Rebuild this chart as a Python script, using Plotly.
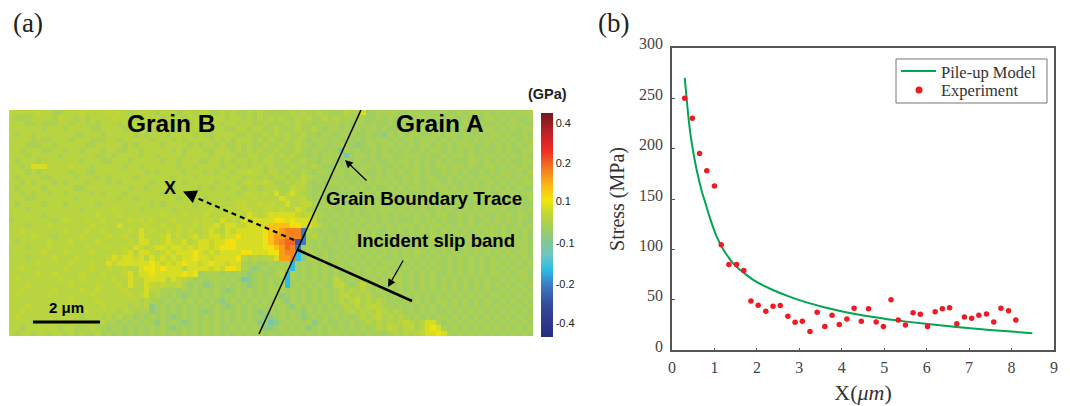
import plotly.graph_objects as go

# ---------- panel (b) data ----------
exp_x = [0.30,0.48,0.65,0.82,1.00,1.16,1.34,1.52,1.69,1.86,2.03,2.21,2.38,2.55,2.73,2.90,3.07,3.25,3.42,3.60,3.77,3.94,4.12,4.29,4.46,4.63,4.81,4.98,5.16,5.33,5.50,5.68,5.85,6.02,6.20,6.37,6.54,6.71,6.89,7.06,7.23,7.41,7.58,7.75,7.93,8.10]
exp_y = [250,230,195,178,163,104.7,85,85,79,49,44.7,38.7,43.7,44.3,33.7,27.7,28.7,18.7,37.7,23.7,34.7,25.7,31,41.7,28.7,41.3,28,23.7,50,30,25,37.3,35.7,23.7,38.3,41.3,42.3,26.3,33,31.7,34.7,36,28,41.7,39.3,30]
model_x = [0.30,0.385,0.46,0.58,0.70,0.78,0.895,1.05,1.21,1.445,1.76,2.0,2.39,2.78,3.17,3.56,3.96,4.35,4.74,5.13,5.92,6.7,7.49,8.49]
model_y = [270,232,207,179,158,147,131,113,100,86,74.5,67.5,59.5,53,47.5,43,39,35.7,33,30.5,26.5,23.2,20.2,17]
x_ticks = [0,1,2,3,4,5,6,7,8,9]
y_ticks = [0,50,100,150,200,250,300]
legend_names = ["Pile-up Model","Experiment"]

# ---------- panel (a) data: map read cell by cell, as colour-bar codes ----------
map_rows = [
"abbbbabbcc bbbabbbbab abcbbbbcbb bcbbcbbccb cbccbcbccc ccbcbccbcc dcbcckddcc ccddccdcdc cddcdccdcd cdcdccc",
"bcccbbbbca bbcbcbbbba bbbccbbbcb bbcbbcbcbb cbbcbcbcbc bccbcbccbc bcccdcddcd cdccdcccdc dccdcdcdcc dcdcddc",
"bbbccbcccb bcbbcbcbbb cbbbcbbbbc bbbcbbcbbc bbcbbccbcc cbcbccdccc cdcdccdcdd cdcdccdcdd cdcdcdccdd cdcccdd",
"bbbbbbcbbb cbbbbccbbb bcbbbbcbbb cbcbbbcbbb ccbbcbbccb cccbccbcdc cdcdcdccdc ddcdcdcdcc dddcdcddcc dcdcdcc",
"bcbbcbbbbb bbccbbbcbb bbbcbcbbbc bbbbcbccbb bbccbccbcb cbccbccdcc dcccddcdde cdcdccddcc dccdcddcdc cdcddcd",
"bbbbcbccbb bcbbbcccbb cbbbbbcbbb cbcbbbbcbc bcbbbcbcbc cbcbcdcccd cdddcdcdcc dcdccdcccd cdcdcdcdcc dcdcdcc",
"bbbcccbbcb bbbbccbbbb bcbcbbbbcb bbbcbcbbcb ccbcbccbcc bccbccdccd cccdedccdc cdcdcdccdc dcdcccddcd cdcdcdc",
"bbcbbbccbb cbbcbbbcbb ccbbcbbbbb cbcbbbccbb bcbcbcbccb cccbcdccdc dfcdcddcdc dcdcddcdcc dcdcdcdcdd cdcddcc",
"bbbcbbbbbc bbbbbbccbc bbbbcbbcbb bbcbbbbcbb bbccbbccbc bcbccdcdcc cdfdccdcdc cddcccdcdd cdccdcddcc dcdcdcd",
"bcbbbcbbbb bbbcbbbccb bbcbbbbbcb bcbbbccbbc bcbbcbcbbc cbccbccdcc ddcdcddcdd cdccdcdcdc dcdddccdcd cdcddcc",
"bbcbkkkbbb babbbcbbbb bcbbcbbbbb bcbbcbbbbc bbcbcbbcbc ccbcccbcdd cddcdccdcd dcdcdcdcdc cdccdcddcc dcdcdcd",
"bbbcbcbbbb bcbbccbbbb bbbbbcbcbb bbcbbbcbcb bcbbabbcbb cbccbcdccd ccdcdcddcd cdcdccdcdd cdcdcddcdc dccdcdc",
"bcbbbbccbb bbcbbbcbcb bbbcbbbbbb cbbbcbbbbb cbbcbbcbcb bcbcabccdc dcdddccdcd cddcdcdccd dcdcdcdccd cdcdccd",
"bbcbcbbbcb cbbbcbbbcb cbbbbbcbbb bbcbbbbbcb bbcbabbabc cbcbacdcdc cdcdcdcdcc dcdcdcddcc dcddcdcdcc dcdcdcc",
"bcbbbbcbbb bbccbbbbbb bbcbbcbbbb cbbbbcbcbb cbbcbbcbbb ccabbcddcd dcdcdcdcdd cdcdccdcdc cdcdcdcdcd cdcdcdd",
"bbcbcbbcbb cbbbbcbcbb bcbbbbbbcb bbbbcbbbbb bbcbabbabk cbkbccdcdc cdddcdcdcc dcdcddccdd ccdcdcdccd dcdcdcc",
"bbbccbbbbb bbcbbbbbbb cbbcbbbbbb bcbbbbcbbb cbbbbabbbb kabbacdcdd cdcdcdcddc cddccddcdc dcdcddcdcc dcdccdc",
"bcbbbbcbbb cbbbbbcbbb bbbbbbcbcb bbbbcbbbbb bbaabbabab bkbbaacdcc dcdcdccdcd dcdcdccdcd cdcdcdcdcd cdcdcdd",
"bbbcbbbbbb bbbcbbbbba bbbbcbbbbb cbbbbbbabb abbaabbaab abbkacdcdc ddcdcdcdcc cdcdcdcddc dcdccdcdcc dcddcdc",
"bbbbbbcbbb bbbbbbabbb abbbbbbbab bbabbbabbb aaabkabakk kkkababccd cdcdcddcdc dcdcdcdcdc cddcdcdcdd cdcdccd",
"cbbbbbbbcb abbbabbabb bbabababbb abbbabaabk aabkakkkkm mklkkkacdc dcdcdcdcdc dcdddcdccd cddcdcddcd cdcdcdd",
"bbbcbbbabb bbbbbabbbb kbbbbabbab babbabaakb kkaakkkknn nnmmkkabcd cdcdcdcdcd cdcccdcdcc dcdcdcdcdc dcddcdc",
"bbabbbbbbb abbbabbabb bbabkbabba bababbakab kakkkkklnn opppibcdcd dcdcdcdcdd cdcdcdcdcd cdcdcdcdcc dcdcdcd",
"bbbbabbbcb bbbabbbbab babbkabbak babakbakka kkmkkkkmno opppicbcdc dcdcdcdcdc dcddcdcdcd dcdcdcdcdc dcdcdcd",
"bcbbbbbabb babbbbabbb bbabkkbbak aakbakkakk mmkkkkklno pqqjicdcdc dcdcdcdcdd cdcdcdcdcc dcdcdccdcd cdcdccd",
"bbbcbbbabb bbbbabbbab babkabakka kkakakkakm lmkkkkklmn oqpidcdcdd cdcdcdcdcc dcdcdcdcdc cdcdcdcdcd dcdcdcd",
"bbbbbbabbb abbbbabbba bakbkkabak akkkmkakak kkkmlkkklm oppheccdcd dcdcdcdcdc dcdcdccdcd cdcdcdcdcd cdcdccd",
"bbbcbbbbab bbabbbbbak akkakbkaka kakkmkkakk kkmbcbcbbk oopheccdcd cdcdcdcdcd dcdcdcdcdc dcdcdcdcdc dcdcdcd",
"bbbbbabbbb babbbabbka kkkkkkmkak akmkkakmkk akkcdcddcd cchdcdcdcd dcdcdcdcdc cdcdcdcdcd dcdcdcdcdc cdcdcdc",
"bbabbbbbbb abbbbabbab babbkllkmk kkbkkkkaka mmkcdedcdc cchdcdcdcd cdcdcdcdcc dcdcdcdcdc dcdcdcdcdc dcdcdcd",
"bbbbbabbab bbbabbbabb bakbkklkkk kkmkmdcccd cdcdedcddc bhcdcdcdcd cdcdcdcdcd cdcdcdcdcd dcdcdcdcdc cdcdccd",
"babbbbbbba bbbabbbbba bbkabkkkkb kabcdcdccc dcdfedcdcd chcdcdcdcd acdcdcdcdc cbcdcdcdcd cdcdcdcdcd dcdcdcd",
"bbbabbbbbb babbbbabbb abkbbkabab bacdcdedcd cdcdedcdcd chdcdcdcdd bacdcacdcd cdcdcdcdcd cdcdcdcdcd cdcdcdc",
"bbabbbbbab bbbabbabbb babbbkbbcc cdcdcdcdcd edcdcdcdcc cdcdcdcdcd cbcbcbcdcd cdcdcdcdcd cdcdcdcdcd dcdcdcd",
"babbbbbabb bbbbbabbbb bbabakcbcd cdedcdcdcd cdcdcdcdcd edcdcdcdcd cbacbcbcdc dcdcdcdcdc dcdcdcdcdc cdcdcdc",
"bbbbbbbbbb babbbbabbb bbbbcbccdc dcdcdcdcde dcdcdcdcdc decdcdcdcd cbcbacbcbc dcdcdcdcdc cdcdcdcdcd dcdcdcd",
"bbbabbbbcb bbbbbbbabb bbcbcbedcd cdcdcdcdcd edcdcdcdcd cdecdcdcdc dcbcacbabc cdcdcdcdcd cdcdcdcdcd cdcdcdc",
"bbabbbbbbb bbbbabbbbb cbbcccedcd cdcdcdedcd cdcdcdedcd cdcdecdcdc cdcbcbbcab cbcdcdcdcd dcdcdcdcdc dcdcdcd",
"babbbbbbbb bbbcbbbcbc bccdcdcdcd edcdcdcdcd cdcdcddeed cdcdedcdcd cdcdcbcbac bcbcdcdcdc cdcdcdcdcd cdcdcdc",
"bbbbcbbbbb cbbbcbcbcc dcdcdcdecd cdedcdcdcd cdcdcdedfe dcdcdcedcd dcdcdcbcbc bcbabcbkkc dcdcdcdcdc dcdcdcd",
"bbcbbbbbbc bbcccbccdc cdcdcdcdcd edcdcdcdcd dcdcdcdeed cdcdcedcdc dcdcdcdcbc abcbacbklk cdcdcdcdcd cdcdcdc",
"bcbbcbbcbb cbcbccbdcd cdcdcdcdcd cdcdcdcdcd cdcdcdcdcd dcdcdcdcdc cdcdcdcdcd cbcbcbakkl kcdcdcdcdc dcdcdcd",
]
code_level = {"a":.55,"b":.53,"c":.505,"d":.485,"e":.45,"f":.39,"g":.34,"h":.30,"i":.232,"j":.17,
              "k":.575,"l":.60,"m":.62,"n":.665,"o":.71,"p":.74,"q":.77}
cbar_pos = [.955,.778,.608,.418,.237,.0625]
cbar_text = ["0.4","0.2","0.1","-0.1","-0.2","-0.4"]
map_colors = [[0,"#272b80"],[.143,"#34499c"],[.232,"#3c7cc0"],[.30,"#2dbbe8"],[.366,"#6fc6c2"],[.42,"#7fc79a"],
              [.487,"#a2ce5e"],[.545,"#bfd637"],[.61,"#f2e60f"],[.674,"#fdbb13"],[.746,"#f47f20"],[.835,"#ee2b24"],
              [.90,"#c9212a"],[1,"#701a1c"]]

W, H = 1070, 406
z = [[code_level[c] for c in r.replace(" ","")] for r in map_rows]
ncol = max(len(r) for r in z)
z = [r + [r[-1]]*(ncol-len(r)) for r in z]
L, R, T, B = 9, 533, 110, 336
dx = (R-L)/ncol; dy = (B-T)/len(z)

fig = go.Figure()
fig.add_trace(go.Heatmap(z=z, x0=L+dx/2, dx=dx, y0=T+dy/2, dy=dy, zmin=0, zmax=1, colorscale=map_colors,
    xaxis="x", yaxis="y", showlegend=False, hoverinfo="skip",
    colorbar=dict(x=541/W, xanchor="left", xpad=0, ypad=0, y=1-113/H, yanchor="top", len=224, lenmode="pixels",
                  thickness=12, thicknessmode="pixels", outlinewidth=0, tickmode="array", tickvals=cbar_pos,
                  ticktext=cbar_text, ticks="", tickfont=dict(family="Liberation Sans Narrow, Liberation Sans", size=11, color="#222"))))
fig.add_trace(go.Scatter(x=model_x, y=model_y, mode="lines", name=legend_names[0], xaxis="x2", yaxis="y2", showlegend=False,
    line=dict(color="#00a651", width=2, shape="spline", smoothing=0.5)))
fig.add_trace(go.Scatter(x=exp_x, y=exp_y, mode="markers", name=legend_names[1], xaxis="x2", yaxis="y2", showlegend=False,
    marker=dict(color="#ed1c24", size=5.5)))

serif = "Liberation Serif"; sans = "Liberation Sans"
fig.update_layout(width=W, height=H, margin=dict(l=0,r=0,t=0,b=0,autoexpand=False), paper_bgcolor="white", plot_bgcolor="white",
    xaxis=dict(domain=[L/W,R/W], range=[L,R], visible=False),
    yaxis=dict(domain=[1-B/H,1-T/H], range=[B,T], visible=False),
    xaxis2=dict(domain=[672/W,1054/W], range=[0,9], anchor="y2", tickvals=x_ticks, ticks="inside", ticklen=3,
        showgrid=False, zeroline=False, showline=True, mirror=True, linecolor="#555", linewidth=1.5,
        tickcolor="#555", tickfont=dict(family=serif,size=16,color="#444"), ticklabelstandoff=2,
        title=dict(text="X(<i>μm</i>)", font=dict(family=serif,size=22,color="#333"), standoff=9)),
    yaxis2=dict(domain=[1-350.3/H,1-47.7/H], range=[0,300], anchor="x2", tickvals=y_ticks, ticks="inside", ticklen=3,
        showgrid=False, zeroline=False, showline=True, mirror=True, linecolor="#555", linewidth=1.5,
        tickcolor="#555", tickfont=dict(family=serif,size=16,color="#444"), ticklabelshift=-4, ticklabelstandoff=4,
        title=dict(text="Stress (MPa)", font=dict(family=serif,size=20,color="#333"), standoff=9)),
    showlegend=False)

def text(s, x, y, size, family=sans, bold=True, color="black"):
    fig.add_annotation(text=f"<b>{s}</b>" if bold else s, x=x, y=y, xref="x", yref="y", showarrow=False,
        font=dict(family=family,size=size,color=color), xanchor="center", yanchor="middle")
def ptext(s, x, y, size, family=sans, bold=False, anchor="center", color="#222"):
    fig.add_annotation(text=f"<b>{s}</b>" if bold else s, x=x/W, y=1-y/H, xref="paper", yref="paper", showarrow=False,
        font=dict(family=family,size=size,color=color), xanchor=anchor, yanchor="middle", xshift=0)
text("Grain B", 171, 123, 24.5); text("Grain A", 440, 123, 24.5)
text("X", 170, 188, 18); text("Grain Boundary Trace", 424, 198, 18.8); text("Incident slip band", 436, 240, 18.6)
text("2 μm", 66, 307, 15)
ptext("(GPa)", 547, 94, 14.5, bold=True)
ptext("(a)", 28, 23, 27, serif); ptext("(b)", 613, 23, 27, serif)

def seg(x0,y0,x1,y1,w,dash="solid"):
    fig.add_shape(type="line", x0=x0,y0=y0,x1=x1,y1=y1,xref="x",yref="y",line=dict(color="black",width=w,dash=dash))
seg(361,110,259,334,1.5); seg(298,250,412,301,2.5); seg(33,322,100,322,3); seg(294,240,190,195,2.2,"5px,4px")
def arrow(x0,y0,x1,y1,w=1.3,size=1.2):
    fig.add_annotation(x=x1,y=y1,ax=x0,ay=y0,xref="x",yref="y",axref="x",ayref="y",text="",showarrow=True,
        arrowhead=2,arrowsize=size,arrowwidth=w,arrowcolor="black")
arrow(368,182,345,160); arrow(404,259,388,287); arrow(196,197,183,191.5,1.8,1.5)

# legend box of panel (b), drawn to the reference's tight row spacing
def pshape(kind,x0,y0,x1,y1,**kw):
    fig.add_shape(type=kind,x0=x0/W,x1=x1/W,y0=1-y0/H,y1=1-y1/H,xref="paper",yref="paper",**kw)
pshape("rect",896,59,1047,103,line=dict(color="#777",width=1),fillcolor="white")
pshape("line",901,71,936,71,line=dict(color="#00a651",width=2))
pshape("circle",915.5,86.5,922.5,93.5,line=dict(width=0),fillcolor="#ed1c24")
ptext(legend_names[0],939,72,16.5,serif,anchor="left",color="#333")
ptext(legend_names[1],939,90.5,16.5,serif,anchor="left",color="#333")

fig.write_html("out.html", post_script="document.body.style.margin='0';", config=dict(displayModeBar=False))
